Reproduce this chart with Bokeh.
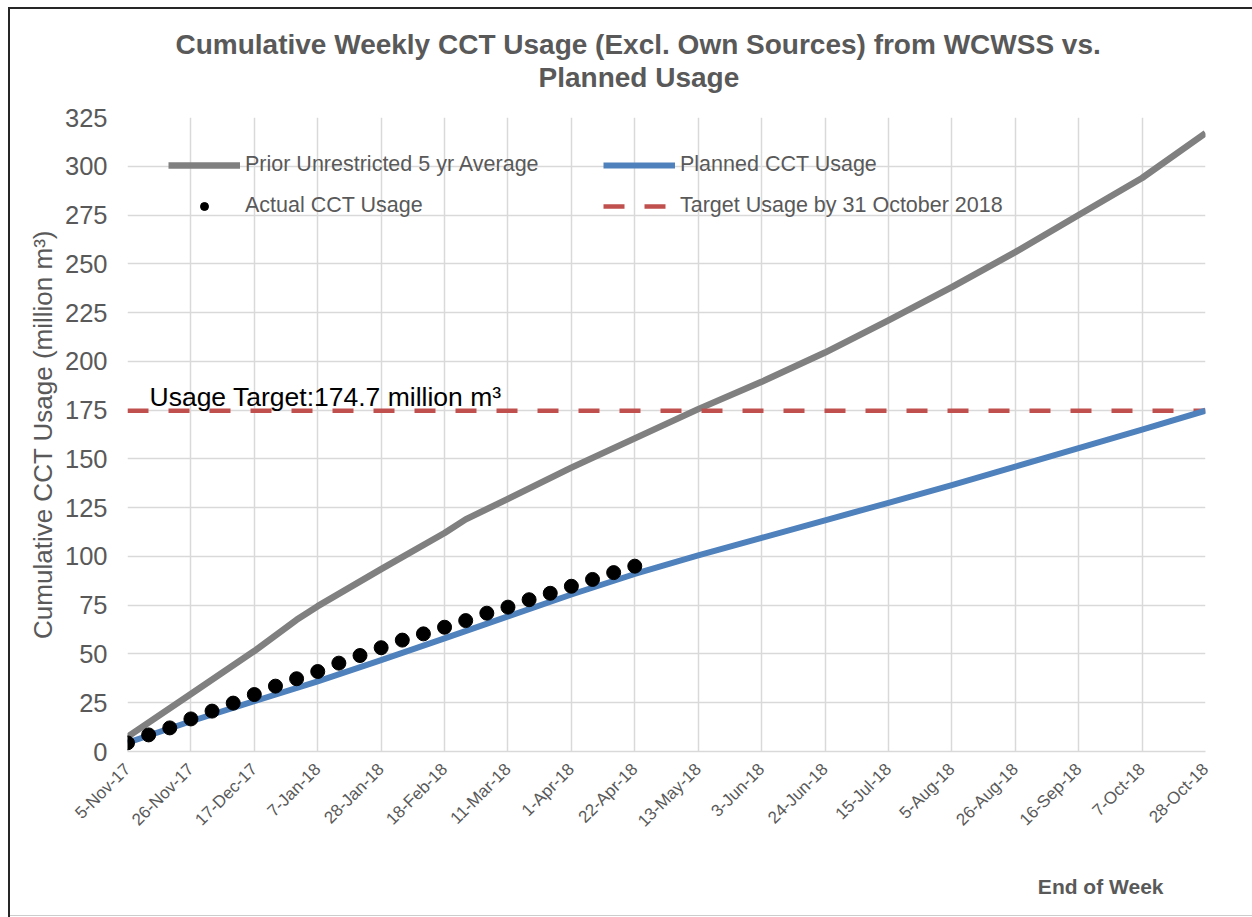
import pandas as pd
from bokeh.plotting import figure
from bokeh.models import Range1d, FixedTicker, Label, Legend, LegendItem, ColumnDataSource, Title
from bokeh.embed import file_html
from bokeh.resources import INLINE

# ---------------- data ----------------
tick_labels = ["5-Nov-17", "26-Nov-17", "17-Dec-17", "7-Jan-18", "28-Jan-18", "18-Feb-18",
               "11-Mar-18", "1-Apr-18", "22-Apr-18", "13-May-18", "3-Jun-18", "24-Jun-18",
               "15-Jul-18", "5-Aug-18", "26-Aug-18", "16-Sep-18", "7-Oct-18", "28-Oct-18"]

planned_dates = tick_labels
planned_usage = [4.5, 15.5, 25.8, 36.0, 46.8, 58.0, 69.3, 80.5, 91.0, 100.5,
                 109.5, 118.5, 127.5, 136.5, 146.0, 155.5, 165.0, 174.7]

prior_dates = ["5-Nov-17", "26-Nov-17", "17-Dec-17", "31-Dec-17", "7-Jan-18", "28-Jan-18",
               "18-Feb-18", "25-Feb-18", "11-Mar-18", "1-Apr-18", "22-Apr-18", "13-May-18",
               "3-Jun-18", "24-Jun-18", "15-Jul-18", "5-Aug-18", "26-Aug-18", "16-Sep-18",
               "7-Oct-18", "28-Oct-18"]
prior_usage = [7.5, 29.5, 51.5, 67.5, 74.5, 93.5, 112.0, 119.0, 129.5, 145.5, 160.5,
               175.5, 189.5, 204.5, 221.0, 238.0, 256.0, 275.0, 294.0, 317.0]

actual_dates = ["5-Nov-17", "12-Nov-17", "19-Nov-17", "26-Nov-17", "3-Dec-17", "10-Dec-17",
                "17-Dec-17", "24-Dec-17", "31-Dec-17", "7-Jan-18", "14-Jan-18", "21-Jan-18",
                "28-Jan-18", "4-Feb-18", "11-Feb-18", "18-Feb-18", "25-Feb-18", "4-Mar-18",
                "11-Mar-18", "18-Mar-18", "25-Mar-18", "1-Apr-18", "8-Apr-18", "15-Apr-18",
                "22-Apr-18"]
actual_usage = [4.4, 8.5, 12.1, 16.7, 20.7, 24.8, 29.2, 33.5, 37.3, 41.0, 45.3, 49.2,
                53.2, 57.1, 60.3, 63.7, 67.1, 70.9, 74.0, 77.8, 81.1, 84.7, 88.2, 91.7, 95.0]

target_usage = 174.7
y_ticks = list(range(0, 326, 25))


def to_dt(lst):
    return pd.to_datetime(lst, format="%d-%b-%y")


tick_dt = to_dt(tick_labels)
tick_ms = [float(d.timestamp() * 1000.0) for d in tick_dt]

TEXT = "#595959"
FONT = "Liberation Sans"

p = figure(x_axis_type="datetime", frame_width=1078, frame_height=634,
           min_border_left=127, min_border_right=47, min_border_top=117, min_border_bottom=166,
           output_backend="svg", toolbar_location=None,
           x_range=Range1d(tick_ms[0], tick_ms[-1]), y_range=Range1d(0, 325))
p.outline_line_color = None
p.background_fill_color = "white"
p.border_fill_color = None
p.title.text = ""
# outer chart frame (dark top/left, light bottom) drawn behind the transparent canvas
p.styles = {
    "background": ("linear-gradient(#262626,#262626) 8px 7px / 100% 2px no-repeat, "
                   "linear-gradient(#262626,#262626) 8px 7px / 2px 100% no-repeat, "
                   "linear-gradient(#cccccc,#cccccc) 8px 915px / 100% 1px no-repeat, white"),
}

# axes
p.xaxis.ticker = FixedTicker(ticks=tick_ms)
p.xaxis.major_label_overrides = {ms: lab for ms, lab in zip(tick_ms, tick_labels)}
p.xaxis.major_label_orientation = 0.785398
p.xaxis.major_label_text_font = FONT
p.xaxis.major_label_text_font_size = "17px"
p.xaxis.major_label_text_color = TEXT
p.xaxis.major_label_standoff = 9
p.xaxis.axis_line_color = "#d9d9d9"
p.xaxis.axis_line_width = 1.5
p.xaxis.major_tick_line_color = None
p.xaxis.minor_tick_line_color = None

p.yaxis.ticker = FixedTicker(ticks=y_ticks)
p.yaxis.major_label_text_font = FONT
p.yaxis.major_label_text_font_size = "25.5px"
p.yaxis.major_label_text_color = TEXT
p.yaxis.major_tick_out = 0
p.yaxis.major_tick_in = 0
p.yaxis.major_label_standoff = 20
p.yaxis.axis_line_color = None
p.yaxis.major_tick_line_color = None
p.yaxis.minor_tick_line_color = None
p.yaxis.axis_label = "Cumulative CCT Usage (million m\u00b3)"
p.yaxis.axis_label_text_font = FONT
p.yaxis.axis_label_text_font_size = "26px"
p.yaxis.axis_label_text_font_style = "normal"
p.yaxis.axis_label_text_color = TEXT
p.yaxis.axis_label_standoff = 4

p.xgrid.grid_line_color = "#d9d9d9"
p.ygrid.grid_line_color = "#d9d9d9"
p.xgrid.grid_line_width = 1.5
p.ygrid.grid_line_width = 1.5

# series
src_prior = ColumnDataSource(dict(x=to_dt(prior_dates), y=prior_usage))
src_plan = ColumnDataSource(dict(x=to_dt(planned_dates), y=planned_usage))
src_act = ColumnDataSource(dict(x=to_dt(actual_dates), y=actual_usage))
src_tgt = ColumnDataSource(dict(x=[tick_ms[0], tick_ms[-1]], y=[target_usage, target_usage]))

r_prior = p.line("x", "y", source=src_prior, line_color="#808080", line_width=6.5, line_join="round")
r_tgt = p.line("x", "y", source=src_tgt, line_color="#c0504d", line_width=4.5, line_dash="21 20")
r_plan = p.line("x", "y", source=src_plan, line_color="#4f81bd", line_width=6, line_join="round")
r_act = p.scatter("x", "y", source=src_act, size=14, marker="circle", fill_color="black", line_color="black")

legend = Legend(items=[
    LegendItem(label="Prior Unrestricted 5 yr Average", renderers=[r_prior]),
    LegendItem(label="Actual CCT Usage", renderers=[r_act]),
    LegendItem(label="Planned CCT Usage", renderers=[r_plan]),
    LegendItem(label="Target Usage by 31 October 2018", renderers=[r_tgt]),
], ncols=2, orientation="vertical", location=(41, 533),
    label_text_font=FONT, label_text_font_size="21.5px", label_text_color=TEXT,
    glyph_width=72, glyph_height=20, label_standoff=5, label_width=342, spacing=16,
    padding=0, margin=0, background_fill_alpha=0, border_line_alpha=0)
p.add_layout(legend, "center")

# target annotation
p.add_layout(Label(x=tick_ms[0], y=target_usage, x_offset=22, y_offset=14,
                   text="Usage Target:174.7 million m\u00b3", text_font=FONT,
                   text_font_size="26.5px", text_color="black", text_baseline="alphabetic"))

# title (two lines, closest first) and x-axis title
p.add_layout(Title(text="Planned Usage", align="left", offset=411, standoff=49,
                   text_font=FONT, text_font_size="28px", text_font_style="bold",
                   text_color=TEXT), "above")
p.add_layout(Title(text="Cumulative Weekly CCT Usage (Excl. Own Sources) from WCWSS vs.",
                   align="left", offset=48, standoff=-48,
                   text_font=FONT, text_font_size="28px", text_font_style="bold",
                   text_color=TEXT), "above")
p.add_layout(Title(text="End of Week", align="right", offset=42, standoff=65,
                   text_font=FONT, text_font_size="21px", text_font_style="bold",
                   text_color=TEXT), "below")

open("out.html", "w").write(file_html(p, INLINE))
